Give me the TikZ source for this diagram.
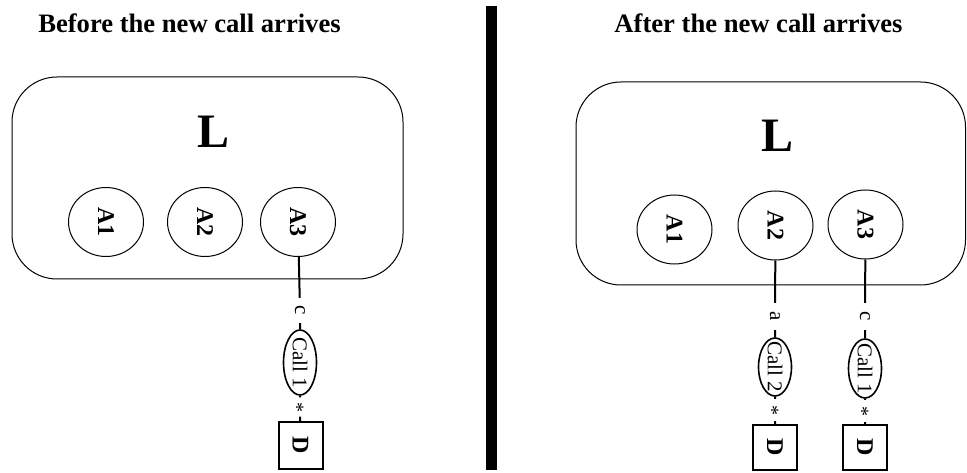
\documentclass[tikz,border=0pt]{standalone}
\usepackage{fontspec}
\setmainfont{Liberation Serif}
\usetikzlibrary{shapes.geometric}
\tikzset{
  ttl/.style={font=\fontsize{26.6}{30}\selectfont\bfseries,anchor=base,inner sep=0pt},
  bigl/.style={font=\fontsize{48}{50}\selectfont\bfseries,anchor=base,inner sep=0pt},
  grp/.style={draw,rectangle,rounded corners=45pt,line width=1pt,inner sep=0pt},
  agt/.style={draw,ellipse,fill=white,line width=1pt,inner sep=0pt,rotate=-90,minimum width=69pt,minimum height=75pt,font=\fontsize{24}{24}\selectfont\bfseries},
  callv/.style={draw,ellipse,line width=1.6pt,inner sep=0pt,rotate=-90,minimum height=33pt},
  calltxt/.style={rotate=-90,inner sep=0pt,font=\fontsize{21}{21}\selectfont},
  lab/.style={rotate=-90,inner sep=0pt,font=\fontsize{21}{21}\selectfont},
  stl/.style={rotate=-90,inner sep=0pt,font=\fontsize{20}{20}\selectfont},
  dev/.style={draw,rectangle,line width=2pt,inner sep=0pt,rotate=-90,minimum height=44pt,font=\fontsize{24}{24}\selectfont\bfseries},
  conn/.style={line width=2pt},
}
\begin{document}
\begin{tikzpicture}[x=1pt,y=-1pt]
  \useasboundingbox (0,0) rectangle (967,473);
  \node[ttl] (tBefore) at (189.5,33) {Before the new call arrives};
  \node[ttl] (tAfter) at (758.5,33) {After the new call arrives};
  \fill (486,6) rectangle (497,470);
  \node[grp,minimum width=391pt,minimum height=202pt] (lL) at (207.5,178) {};
  \node[bigl] (lLt) at (213.5,148) {L};
  \node[agt] (lA1) at (106,222) {A1};
  \node[agt] (lA2) at (205,222) {A2};
  \node[agt] (lA3) at (298,222) {A3};
  \node[lab,minimum width=25pt] (lc) at (300,310.5) {c};
  \node[callv,minimum width=65pt] (lcall) at (300,362.5) {};
  \node[calltxt] (lcallt) at (lcall) {Call 1};
  \node[stl,minimum width=19pt] (lst) at (300,407) {};
  \node[stl] (lstt) at (297,407) {*};
  \node[dev,minimum width=47pt] (lD) at (300.5,445.5) {D};
  \draw[conn] (lA3) -- (lc) -- (lcall) -- (lst) -- (lD);
  \node[grp,minimum width=389.5pt,minimum height=203pt] (rL) at (770.75,183.5) {};
  \node[bigl] (rLt) at (778,152) {L};
  \node[agt] (rA1) at (674.5,229.5) {A1};
  \node[agt] (rA2) at (775.5,225.5) {A2};
  \node[agt] (rA3) at (865.5,224.5) {A3};
  \node[lab,minimum width=27pt] (ra) at (775,316.5) {a};
  \node[callv,minimum width=58pt] (rcall2) at (775,367) {};
  \node[calltxt] (rcall2t) at (rcall2) {Call 2};
  \node[stl,minimum width=22pt] (rst2) at (775,410) {};
  \node[stl] (rst2t) at (772,410) {*};
  \node[dev,minimum width=45pt] (rD2) at (775,447.5) {D};
  \draw[conn] (rA2) -- (ra) -- (rcall2) -- (rst2) -- (rD2);
  \node[lab,minimum width=27pt] (rc) at (865,316.5) {c};
  \node[callv,minimum width=59pt] (rcall1) at (865,368.5) {};
  \node[calltxt] (rcall1t) at (rcall1) {Call 1};
  \node[stl,minimum width=22pt] (rst1) at (865,411) {};
  \node[stl] (rst1t) at (862,411) {*};
  \node[dev,minimum width=45pt] (rD1) at (865,447.5) {D};
  \draw[conn] (rA3) -- (rc) -- (rcall1) -- (rst1) -- (rD1);
\end{tikzpicture}
\end{document}
